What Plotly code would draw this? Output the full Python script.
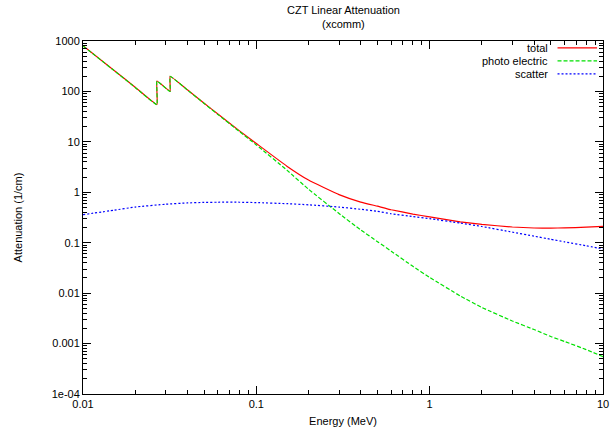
import plotly.graph_objects as go

# Energies (MeV) with duplicated points at the Cd and Te K-edges
energy = [0.01, 0.015, 0.02, 0.0267, 0.0267, 0.0318, 0.0318, 0.04, 0.05, 0.06, 0.08,
          0.1, 0.15, 0.2, 0.3, 0.4, 0.5, 0.6, 0.8, 1.0, 1.5, 2.0, 3.0, 4.0, 5.0,
          6.0, 8.0, 10.0]

total = [805, 267, 121, 55, 161, 100, 200, 108, 58.5, 35.6, 16.5,
         9.3, 3.3, 1.75, 0.9, 0.64, 0.53, 0.45, 0.37, 0.325, 0.26, 0.23, 0.205, 0.196, 0.195,
         0.197, 0.203, 0.21]

photo = [800, 265, 120, 54.5, 160.5, 99.5, 199.5, 107, 57.8, 35, 15.9,
         8.7, 2.75, 1.15, 0.38, 0.18, 0.105, 0.068, 0.034, 0.0205, 0.0088, 0.0052, 0.0028, 0.0019, 0.00138,
         0.0011, 0.00076, 0.00055]

scatter_e = [0.01, 0.015, 0.02, 0.03, 0.04, 0.05, 0.06, 0.08, 0.1, 0.15, 0.2, 0.3, 0.4,
             0.5, 0.6, 0.8, 1.0, 1.5, 2.0, 3.0, 4.0, 5.0, 6.0, 8.0, 10.0]
scatter = [0.36, 0.44, 0.51, 0.58, 0.615, 0.63, 0.635, 0.635, 0.625, 0.595, 0.565, 0.51, 0.46,
           0.42, 0.375, 0.33, 0.30, 0.245, 0.21, 0.162, 0.135, 0.117, 0.104, 0.087, 0.075]

series_names = ["total", "photo electric", "scatter"]
series_colors = ["#ff0000", "#00e000", "#0000ff"]
series_dash = ["solid", "4px,2px", "2px,2px"]

x_tickvals = [0.01, 0.1, 1, 10]
x_ticktext = ["0.01", "0.1", "1", "10"]
y_tickvals = [1000, 100, 10, 1, 0.1, 0.01, 0.001, 0.0001]
y_ticktext = ["1000", "100", "10", "1", "0.1", "0.01", "0.001", "1e-04"]
x_minor = [m * d for d in [0.01, 0.1, 1] for m in range(2, 10)]
y_minor = [m * d for d in [0.0001, 0.001, 0.01, 0.1, 1, 10, 100] for m in range(2, 10)]

title_lines = ["CZT Linear Attenuation", "(xcomm)"]

FONT = "Liberation Sans, Arial, sans-serif"

fig = go.Figure()
data = [(energy, total), (energy, photo), (scatter_e, scatter)]
for (xs, ys), name, col, dash in zip(data, series_names, series_colors, series_dash):
    fig.add_trace(go.Scatter(x=xs, y=ys, mode="lines", name=name, showlegend=False,
                             line=dict(color=col, width=1.2, dash=dash, shape="spline", smoothing=0.3)))

L, W, T, B = 83, 526, 41, 396
H = B - T

# title (two lines)
for txt, py in zip(title_lines, [10, 24]):
    fig.add_annotation(x=(346 - L) / W, y=1 + (T - py) / H, xref="paper", yref="paper", text=txt,
                       showarrow=False, xanchor="center", yanchor="middle",
                       font=dict(family=FONT, size=11, color="black"))

# gnuplot-style legend (text right-aligned, sample on the right)
legend_y = [48, 61, 74]
for name, col, dash, py in zip(series_names, series_colors, series_dash, legend_y):
    yp = 1 - (py - T) / H
    fig.add_annotation(x=(555 - L) / W, y=yp, xref="paper", yref="paper", text=name,
                       showarrow=False, xanchor="right", yanchor="middle",
                       font=dict(family=FONT, size=11, color="black"))
    fig.add_shape(type="line", xref="paper", yref="paper", x0=(563 - L) / W, x1=(603 - L) / W,
                  y0=yp, y1=yp, line=dict(color=col, width=1.2, dash=dash))

axis_common = dict(type="log", showgrid=False, zeroline=False, showline=True, linecolor="black",
                   linewidth=1, mirror="allticks", ticks="inside", ticklen=8, tickcolor="#000000",
                   tickwidth=1, tickfont=dict(family=FONT, size=11, color="black"))

fig.update_layout(
    width=616, height=433,
    margin=dict(l=L, r=616 - L - W, t=T, b=433 - B),
    paper_bgcolor="white", plot_bgcolor="white",
    font=dict(family=FONT, size=11, color="black"),
    xaxis=dict(axis_common, range=[-2, 1], tickmode="array", tickvals=x_tickvals, ticktext=x_ticktext,
               minor=dict(ticks="inside", ticklen=4, tickcolor="#000000", tickwidth=1,
                          tickmode="array", tickvals=x_minor, showgrid=False),
               title=dict(text="Energy (MeV)", standoff=8, font=dict(family=FONT, size=11))),
    yaxis=dict(axis_common, range=[-4, 3], tickmode="array", tickvals=y_tickvals, ticktext=y_ticktext,
               minor=dict(ticks="inside", ticklen=4, tickcolor="#000000", tickwidth=1,
                          tickmode="array", tickvals=y_minor, showgrid=False),
               title=dict(text="Attenuation (1/cm)", standoff=26, font=dict(family=FONT, size=11))),
)

fig.write_html("out.html")
